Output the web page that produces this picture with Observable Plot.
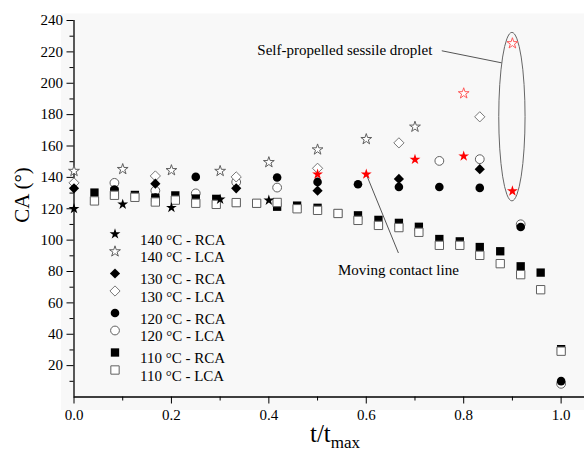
<!DOCTYPE html>
<html><head><meta charset="utf-8">
<script src="https://cdn.jsdelivr.net/npm/d3@7"></script>
<script src="https://cdn.jsdelivr.net/npm/@observablehq/plot@0.6"></script>
<style>
body{margin:0;background:#fff;}
#chart{width:584px;height:455px;}
</style>
</head><body><div id="chart"></div>
<script>
// ---- data ----
const t140 = [0, 0.1, 0.2, 0.3, 0.4, 0.5, 0.6, 0.7, 0.8, 0.9];
const rca140 = [120, 122.8, 120.7, 126, 125.4, 142, 142, 151.4, 153.5, 131.3];
const lca140 = [144, 145.2, 144.5, 144, 149.6, 157.7, 164.3, 172.2, 193.5, 225.4];
const hot140R = [0, 0, 0, 0, 0, 1, 1, 1, 1, 1];
const hot140L = [0, 0, 0, 0, 0, 0, 0, 0, 1, 1];

const t130 = [0, 0.167, 0.333, 0.5, 0.667, 0.833];
const rca130 = [133, 136, 133, 131.5, 139, 145.2];
const lca130 = [136.5, 140.9, 140.3, 145.8, 162, 178.6];

const t120R = [0.083, 0.167, 0.25, 0.417, 0.5, 0.583, 0.667, 0.75, 0.833, 0.917, 1.0];
const rca120 = [132.3, 127.1, 140.3, 139.9, 137.1, 135.6, 133.9, 133.9, 133.3, 108.4, 10.1];
const t120L = [0.083, 0.167, 0.25, 0.333, 0.417, 0.75, 0.833, 0.917, 1.0];
const lca120 = [136.5, 131.5, 129.8, 137, 133.5, 150.5, 151.6, 110.1, 8.4];

const t110 = [0.042, 0.083, 0.125, 0.167, 0.208, 0.25, 0.292, 0.333, 0.375, 0.417, 0.458, 0.5,
              0.542, 0.583, 0.625, 0.667, 0.708, 0.75, 0.792, 0.833, 0.875, 0.917, 0.958, 1.0];
const rca110 = [130.3, 131, 128.8, 127, 128.5, 126.5, 126.3, 124, 123.5, 121.3, 122, 120.6,
                117, 115.8, 112.9, 111, 108.5, 100.7, 99.2, 95.6, 92.9, 83.3, 79.3, 30.5];
const lca110 = [125, 128.6, 127.3, 124.3, 125.5, 123.5, 122.8, 123.9, 123.5, 124, 120, 119,
                117, 112.6, 109.4, 108, 105, 96.7, 96.7, 90.3, 85, 78, 68.4, 29.2];

const legendLabels = ["140 °C - RCA", "140 °C - LCA", "130 °C - RCA", "130 °C - LCA",
                      "120 °C - RCA", "120 °C - LCA", "110 °C - RCA", "110 °C - LCA"];

const xTicks = [0, 0.2, 0.4, 0.6, 0.8, 1.0];
const xMinor = [0.1, 0.3, 0.5, 0.7, 0.9];
const yTicks = [20, 40, 60, 80, 100, 120, 140, 160, 180, 200, 220, 240];
const yMinor = [10, 30, 50, 70, 90, 110, 130, 150, 170, 190, 210, 230];

const noteTexts = ["Self-propelled sessile droplet", "Moving contact line"];
const noteX = [0.556, 0.666];
const noteY = [221, 80.7];
const leaderX1 = [0.755, 0.6], leaderY1 = [220.7, 142];
const leaderX2 = [0.878, 0.666], leaderY2 = [213, 91.8];
const ellipseC = [0.9, 178.4], ellipseR = [0.027, 53.7];

// ---- build tables ----
const zip = (ts, vs, extra) => ts.map((t, i) => ({t, v: vs[i], hot: extra ? extra[i] : 0}));
const s140R = zip(t140, rca140, hot140R), s140L = zip(t140, lca140, hot140L);
const s130R = zip(t130, rca130), s130L = zip(t130, lca130);
const s120R = zip(t120R, rca120), s120L = zip(t120L, lca120);
const s110R = zip(t110, rca110), s110L = zip(t110, lca110);

const RED = "#ff0000", REDO = "#ff5a5a", OPEN = "#606060";
const styles = [
  {symbol: "star", r: 3.4, fill: "#000", stroke: "none"},
  {symbol: "star", r: 3.4, fill: "#fff", stroke: OPEN},
  {symbol: "diamond2", r: 4.6, fill: "#000", stroke: "none"},
  {symbol: "diamond2", r: 4.6, fill: "#fff", stroke: "#777"},
  {symbol: "circle", r: 4.3, fill: "#000", stroke: "none"},
  {symbol: "circle", r: 4.4, fill: "#fff", stroke: OPEN},
  {symbol: "square", r: 4.7, fill: "#000", stroke: "none"},
  {symbol: "square", r: 4.7, fill: "#fff", stroke: OPEN}
];

const serif = "'Liberation Serif', 'DejaVu Serif', serif";

const ellipseMark = (index, scales) => {
  const {x, y} = scales;
  return d3.create("svg:ellipse")
    .attr("cx", x(ellipseC[0])).attr("cy", y(ellipseC[1]))
    .attr("rx", Math.abs(x(ellipseC[0] + ellipseR[0]) - x(ellipseC[0])))
    .attr("ry", Math.abs(y(ellipseC[1] + ellipseR[1]) - y(ellipseC[1])))
    .attr("fill", "none").attr("stroke", "#666").attr("stroke-width", 1)
    .node();
};

const legendMarks = legendLabels.flatMap((lab, i) => {
  const dy = 213.5 + Math.floor(i / 2) * 39.5 + (i % 2) * 17.5;
  const st = styles[i];
  return [
    Plot.dot([lab], {frameAnchor: "top-left", dx: 41, dy, symbol: st.symbol, r: st.r,
      fill: st.fill, stroke: st.stroke, strokeWidth: 1}),
    Plot.text([lab], {frameAnchor: "top-left", dx: 66, dy, text: d => d, textAnchor: "start",
      fontSize: 15, fill: "#000"})
  ];
});

const dotOpts = (st, extra = {}) => ({x: "t", y: "v", symbol: st.symbol, r: st.r,
  fill: st.fill, stroke: st.stroke, strokeWidth: 1, ...extra});

const notes = noteTexts.map((text, i) => ({text, x: noteX[i], y: noteY[i]}));
const leaders = leaderX1.map((x1, i) => ({x1, y1: leaderY1[i], x2: leaderX2[i], y2: leaderY2[i]}));

const plot = Plot.plot({
  width: 584, height: 455,
  marginLeft: 73.5, marginRight: 0, marginTop: 20, marginBottom: 58.5,
  x: {domain: [0, 1.048]},
  y: {domain: [0, 240]},
  style: {fontFamily: serif, fontSize: "15px", color: "#000", background: "transparent"},
  marks: [
    Plot.frame({fill: "#f8f8f8", stroke: "none", insetLeft: -13, insetTop: -7, insetBottom: -13}),
    Plot.axisX({ticks: xMinor, tickSize: 4, tickFormat: () => "", label: null, stroke: "#000"}),
    Plot.axisX({ticks: xTicks, tickSize: 7, tickPadding: 5, tickFormat: d3.format(".1f"),
      label: null, fontSize: 15, stroke: "#000", fill: "#000"}),
    Plot.axisY({ticks: yMinor, tickSize: 4, tickFormat: () => "", label: null, stroke: "#000"}),
    Plot.axisY({ticks: yTicks, tickSize: 7, tickPadding: 4, label: null, fontSize: 15,
      stroke: "#000", fill: "#000"}),
    Plot.ruleX([0], {stroke: "#000", strokeWidth: 1.3}),
    Plot.ruleY([0], {stroke: "#000", strokeWidth: 1.3}),
    // leader lines and ellipse
    Plot.link(leaders, {x1: "x1", y1: "y1", x2: "x2", y2: "y2", stroke: "#555", strokeWidth: 1}),
    ellipseMark,
    // data
    Plot.dot(s120L, dotOpts(styles[5])),
    Plot.dot(s120R, dotOpts(styles[4])),
    Plot.dot(s110R, dotOpts(styles[6])),
    Plot.dot(s110L, dotOpts(styles[7])),
    Plot.dot(s130L, dotOpts(styles[3])),
    Plot.dot(s130R, dotOpts(styles[2])),
    Plot.dot(s140L, dotOpts(styles[1], {stroke: d => d.hot ? REDO : OPEN})),
    Plot.dot(s140R, dotOpts(styles[0], {fill: d => d.hot ? RED : "#000"})),
    // annotations
    Plot.text(notes, {x: "x", y: "y", text: "text", fontSize: 15, fill: "#000"}),
    ...legendMarks
  ]
});

const svg = d3.select(plot);
// y axis title
svg.append("text")
  .attr("transform", "translate(29,195) rotate(-90)")
  .attr("text-anchor", "middle")
  .attr("font-size", 21).attr("fill", "#000")
  .text("CA (°)");
// x axis title with subscript
const xt = svg.append("text")
  .attr("x", 335).attr("y", 442)
  .attr("text-anchor", "middle").attr("fill", "#000");
xt.append("tspan").attr("font-size", 25).text("t/t");
xt.append("tspan").attr("font-size", 17).attr("dy", 6).text("max");

document.getElementById("chart").appendChild(plot);
</script>
</body></html>
